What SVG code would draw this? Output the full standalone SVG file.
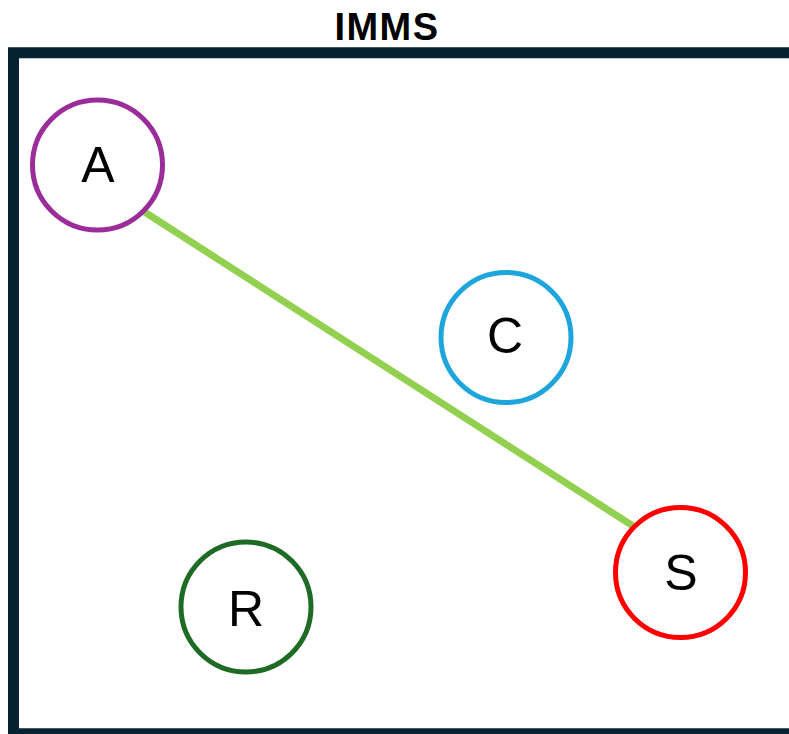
<svg xmlns="http://www.w3.org/2000/svg" width="789" height="734" viewBox="0 0 789 734">
<style>
.title{font-family:"Liberation Sans",Arial,sans-serif;font-weight:bold;font-size:38px;fill:#000;letter-spacing:1.5px}
.lbl{font-family:"Liberation Sans",Arial,sans-serif;font-size:50px;fill:#000;text-anchor:middle}
.node circle{fill:#fff;stroke-width:5}
</style>
<rect width="789" height="734" fill="#fff"/>
<g id="frame">
<rect x="13.5" y="52.75" width="800" height="681" fill="none" stroke="#072333" stroke-width="11"/>
<text class="title" x="387" y="40" text-anchor="middle">IMMS</text>
</g>
<g id="connectors">
<line x1="143" y1="211" x2="633" y2="526" stroke="#92d050" stroke-width="7"/>
</g>
<g id="A" class="node">
<circle cx="97.5" cy="165" r="65" stroke="#9b2d9b"/>
<text class="lbl" x="98" y="182">A</text>
</g>
<g id="C" class="node">
<circle cx="506" cy="337.5" r="65" stroke="#1ea5dc"/>
<text class="lbl" x="505" y="353">C</text>
</g>
<g id="S" class="node">
<circle cx="680.5" cy="572.5" r="65" stroke="#ff0000"/>
<text class="lbl" x="681" y="590">S</text>
</g>
<g id="R" class="node">
<circle cx="246" cy="607" r="65" stroke="#1e6b25"/>
<text class="lbl" x="246" y="626">R</text>
</g>
</svg>
